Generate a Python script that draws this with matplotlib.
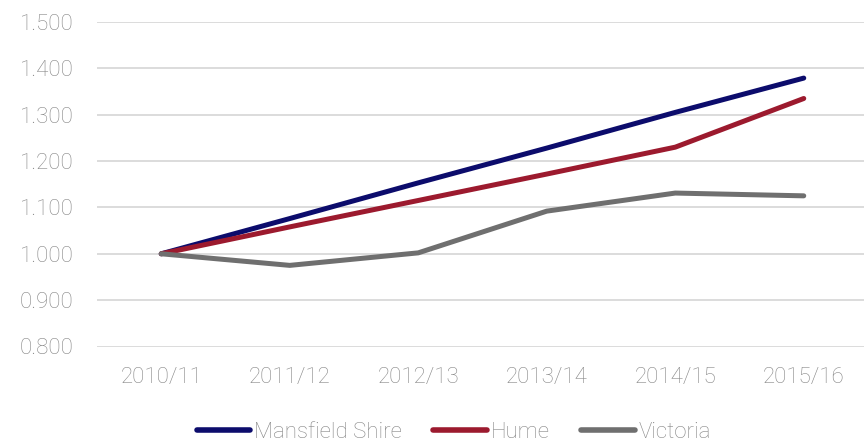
import matplotlib
matplotlib.use("Agg")
import matplotlib.pyplot as plt
from matplotlib.ticker import FuncFormatter

categories = ["2010/11", "2011/12", "2012/13", "2013/14", "2014/15", "2015/16"]
mansfield = [1.000, 1.076, 1.153, 1.228, 1.305, 1.379]
hume = [1.000, 1.058, 1.115, 1.172, 1.230, 1.335]
victoria = [1.000, 0.975, 1.002, 1.092, 1.131, 1.125]
series_names = ["Mansfield Shire", "Hume", "Victoria"]
series_colors = ["#0C0C6C", "#9C1A2E", "#6F6F6F"]

plt.rcParams['font.family'] = ['Roboto', 'DejaVu Sans']
plt.rcParams['font.weight'] = 'light'
text_color = "#868686"

fig = plt.figure(figsize=(8.64, 4.42), dpi=100)
ax = fig.add_axes([97/864, (442-346.5)/442, 771/864, (346.5-22)/442])

x = list(range(len(categories)))
for vals, name, col in zip([mansfield, hume, victoria], series_names, series_colors):
    ax.plot(x, vals, color=col, lw=3.6, label=name, solid_capstyle='round', solid_joinstyle='round')

ax.set_xlim(-0.5, len(categories) - 0.5)
ax.set_ylim(0.8, 1.5)
ax.set_yticks([0.8, 0.9, 1.0, 1.1, 1.2, 1.3, 1.4, 1.5])
ax.yaxis.set_major_formatter(FuncFormatter(lambda v, p: f"{v:.3f}"))
ax.set_xticks(x)
ax.set_xticklabels(categories)
for s in ax.spines.values():
    s.set_visible(False)
ax.grid(axis='y', color="#D9D9D9", lw=1.3)
ax.set_axisbelow(True)
ax.tick_params(axis='both', length=0, labelsize=16, labelcolor=text_color)
ax.tick_params(axis='x', pad=15)
ax.tick_params(axis='y', pad=17)

leg = fig.legend(loc='center', bbox_to_anchor=(454/864, 1 - 432/442), ncol=3, frameon=False,
                 fontsize=16, handlelength=2.4, handletextpad=0.2, columnspacing=1.4,
                 labelcolor=text_color)
for line in leg.get_lines():
    line.set_linewidth(4)
    line.set_solid_capstyle('round')

fig.savefig("out.png", dpi=100, facecolor="white")
